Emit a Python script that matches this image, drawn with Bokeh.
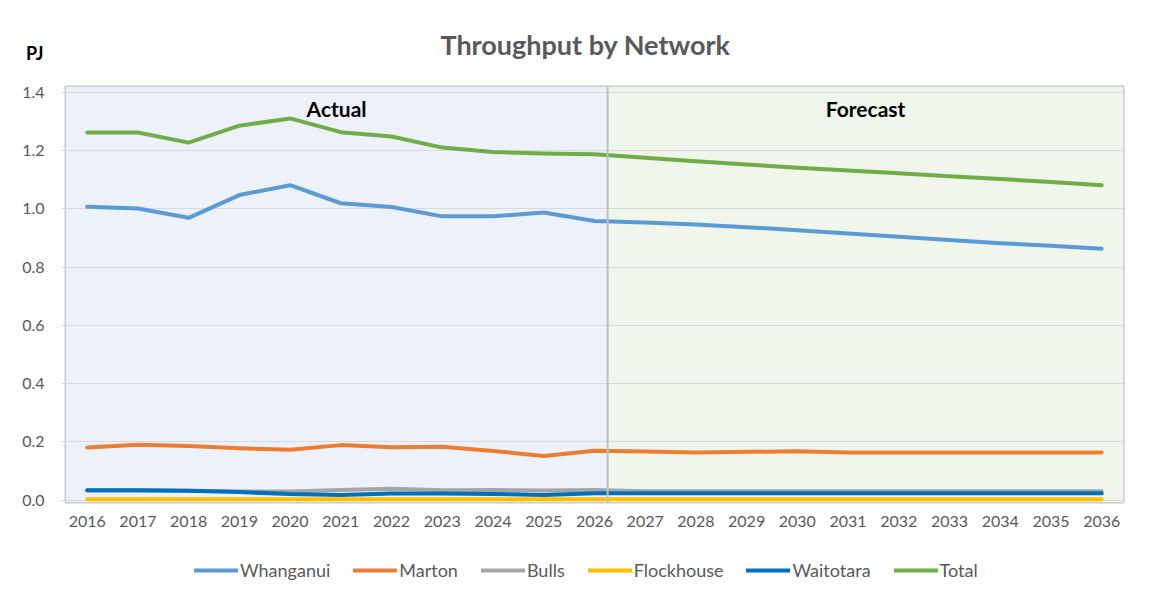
from bokeh.plotting import figure
from bokeh.layouts import column
from bokeh.models import (Range1d, FixedTicker, PrintfTickFormatter, BoxAnnotation,
                          Span, Label, Legend, LegendItem, ColumnDataSource)
from bokeh.embed import file_html
from bokeh.resources import INLINE

# ---------------- data ----------------
years = list(range(2016, 2037))
whanganui = [1.007, 1.001, 0.969, 1.047, 1.081, 1.019, 1.006, 0.974, 0.974, 0.987, 0.958,
             0.953, 0.946, 0.937, 0.926, 0.915, 0.904, 0.893, 0.882, 0.873, 0.863]
marton = [0.181, 0.190, 0.186, 0.178, 0.173, 0.189, 0.182, 0.183, 0.169, 0.152, 0.170,
          0.167, 0.164, 0.166, 0.168, 0.164, 0.164, 0.164, 0.164, 0.164, 0.164]
bulls = [0.033, 0.033, 0.032, 0.030, 0.030, 0.035, 0.039, 0.034, 0.035, 0.033, 0.035,
         0.031, 0.031, 0.031, 0.031, 0.031, 0.031, 0.031, 0.031, 0.031, 0.031]
flockhouse = [0.003] * 21
waitotara = [0.034, 0.034, 0.032, 0.028, 0.021, 0.018, 0.023, 0.023, 0.021, 0.018, 0.024,
             0.024, 0.024, 0.024, 0.024, 0.024, 0.024, 0.024, 0.024, 0.024, 0.024]
total = [1.262, 1.262, 1.227, 1.285, 1.310, 1.263, 1.248, 1.210, 1.195, 1.190, 1.187,
         1.175, 1.163, 1.152, 1.141, 1.131, 1.122, 1.112, 1.102, 1.092, 1.081]

series_names = ["Whanganui", "Marton", "Bulls", "Flockhouse", "Waitotara", "Total"]
series_values = [whanganui, marton, bulls, flockhouse, waitotara, total]
series_colors = ["#5B9BD5", "#ED7D31", "#A5A5A5", "#FFC000", "#0070C0", "#70AD47"]
y_ticks = [0.0, 0.2, 0.4, 0.6, 0.8, 1.0, 1.2, 1.4]

# ---------------- layout constants ----------------
W = 1153
X0, X1 = 2015.572, 2036.43
DIVIDER = 2026.26
FONT = "Lato"
GREY_TXT = "#595959"

# ---------------- header (title + unit) ----------------
HEAD_H = 75
head = figure(width=W, height=HEAD_H, output_backend="svg", toolbar_location=None,
              x_axis_type=None, min_border=0,
              x_range=Range1d(0, 1), y_range=Range1d(0, HEAD_H))
head.outline_line_color = None
head.xgrid.visible = False
head.ygrid.visible = False
head.border_fill_color = "white"
PJ_POS = HEAD_H - 52.6
head.yaxis.ticker = FixedTicker(ticks=[PJ_POS])
head.yaxis.major_label_overrides = {PJ_POS: "PJ"}
head.yaxis.axis_line_color = None
head.yaxis.major_tick_line_color = None
head.yaxis.minor_tick_line_color = None
head.yaxis.major_tick_out = 0
head.yaxis.major_label_standoff = 22
head.yaxis.major_label_text_font = FONT
head.yaxis.major_label_text_font_size = "18px"
head.yaxis.major_label_text_font_style = "bold"
head.yaxis.major_label_text_color = "black"
head.add_layout(Label(x=520, y=31, x_units="screen", y_units="screen",
                      text="Throughput by Network", text_align="center",
                      text_baseline="alphabetic", text_font=FONT, text_font_size="27px",
                      text_font_style="bold", text_color=GREY_TXT))

# ---------------- main chart ----------------
p = figure(width=W, height=460, output_backend="svg", toolbar_location=None,
           x_range=Range1d(X0, X1), y_range=Range1d(-0.0079, 1.4196),
           min_border_left=65, min_border_right=30, min_border_top=11, min_border_bottom=33)
p.background_fill_color = "white"
p.border_fill_color = "white"
p.outline_line_color = "#C4C4C4"
p.outline_line_width = 2

p.add_layout(BoxAnnotation(right=DIVIDER, fill_color="#EDF1F9", fill_alpha=1,
                           line_color=None, level="image"))
p.add_layout(BoxAnnotation(left=DIVIDER, fill_color="#F0F6EB", fill_alpha=1,
                           line_color=None, level="image"))

p.xgrid.visible = False
p.ygrid.grid_line_color = "#D9D9D9"
p.ygrid.grid_line_width = 1
p.ygrid.ticker = FixedTicker(ticks=y_ticks)

p.xaxis.ticker = FixedTicker(ticks=years)
p.xaxis.axis_line_color = None
p.xaxis.major_tick_line_color = None
p.xaxis.minor_tick_line_color = None
p.xaxis.major_label_standoff = 7
p.xaxis.major_label_text_font = FONT
p.xaxis.major_label_text_font_size = "16px"
p.xaxis.major_label_text_color = GREY_TXT

p.yaxis.ticker = FixedTicker(ticks=y_ticks)
p.yaxis.formatter = PrintfTickFormatter(format="%.1f")
p.yaxis.axis_line_color = None
p.yaxis.major_tick_line_color = "#D9D9D9"
p.yaxis.major_tick_out = 4
p.yaxis.major_tick_in = 0
p.yaxis.minor_tick_line_color = None
p.yaxis.major_label_standoff = 17
p.yaxis.major_label_text_font = FONT
p.yaxis.major_label_text_font_size = "16px"
p.yaxis.major_label_text_color = GREY_TXT

for name, vals, col in zip(series_names, series_values, series_colors):
    src = ColumnDataSource(dict(x=years, y=vals))
    p.line("x", "y", source=src, line_color=col, line_width=4,
           line_cap="round", line_join="round")

p.add_layout(Span(location=DIVIDER, dimension="height", line_color="#BFBFBF", line_width=2))

p.add_layout(Label(x=(X0 + DIVIDER) / 2, y=394.4, y_units="screen", text="Actual",
                   text_align="center", text_baseline="alphabetic", text_font=FONT,
                   text_font_size="21px", text_font_style="bold", text_color="black"))
p.add_layout(Label(x=(DIVIDER + X1) / 2, y=394.4, y_units="screen", text="Forecast",
                   text_align="center", text_baseline="alphabetic", text_font=FONT,
                   text_font_size="21px", text_font_style="bold", text_color="black"))

# ---------------- legend strip ----------------
LEG_H = 62
leg = figure(width=W, height=LEG_H, output_backend="svg", toolbar_location=None,
             x_axis_type=None, y_axis_type=None, min_border=0,
             x_range=Range1d(0, 1), y_range=Range1d(0, 1))
leg.outline_line_color = None
leg.xgrid.visible = False
leg.ygrid.visible = False
leg.border_fill_color = "white"
items = []
for name, vals, col in zip(series_names, series_values, series_colors):
    # same series; they fall outside this strip's ranges, only their legend swatch shows
    r = leg.line(x=years, y=vals, line_color=col, line_width=4, line_cap="round")
    items.append(LegendItem(label=name, renderers=[r]))
leg.add_layout(Legend(items=items, orientation="horizontal", location=(129, 16),
                      glyph_width=44, glyph_height=20, label_height=20, label_standoff=2,
                      spacing=23, padding=0, margin=0, border_line_color=None,
                      background_fill_alpha=0, label_text_font=FONT,
                      label_text_font_size="18px", label_text_color=GREY_TXT))

layout = column(head, p, leg, spacing=0)
open("out.html", "w").write(file_html(layout, INLINE))
